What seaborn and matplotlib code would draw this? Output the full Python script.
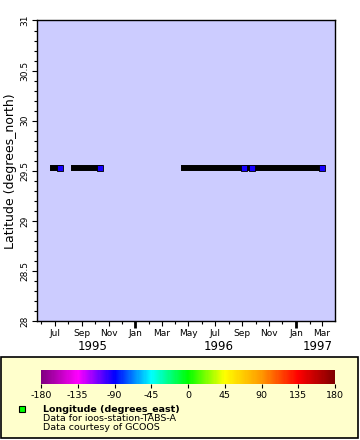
import pandas as pd
import seaborn as sns
import matplotlib
matplotlib.use('Agg')
import matplotlib.pyplot as plt
import matplotlib.dates as mdates
from matplotlib.colors import LinearSegmentedColormap, Normalize
from matplotlib.cm import ScalarMappable
from matplotlib.patches import Rectangle

# Data
seg_ids = [1, 1, 2, 2, 3, 3]
seg_times = ['1995-06-27', '1995-07-14', '1995-08-15', '1995-10-13',
             '1996-04-21', '1997-03-01']
latitude = 29.53
longitude = -94.0
end_times = ['1995-07-14', '1995-10-13', '1996-09-05', '1996-09-23', '1997-03-01']
x_range = ['1995-05-22', '1997-03-31']
year_labels = ['1995', '1996', '1997']
year_pos = ['1995-09-25', '1996-07-08', '1997-02-19']

cbar_ticks = [-180, -135, -90, -45, 0, 45, 90, 135, 180]
cbar_colors = ['#800080', '#ff00ff', '#0000ff', '#00ffff', '#00ff00',
               '#ffff00', '#ff9900', '#ff0000', '#800000']
legend_lines = ['Longitude (degrees_east)', 'Data for ioos-station-TABS-A',
                'Data courtesy of GCOOS']

sns.set_style("ticks")
plt.rcParams['font.family'] = ['DejaVu Sans']
for key in ['text.color', 'axes.labelcolor', 'xtick.color', 'ytick.color']:
    plt.rcParams[key] = 'black'

cmap = LinearSegmentedColormap.from_list('erddap_rainbow', cbar_colors)
norm = Normalize(-180, 180)

df_seg = pd.DataFrame({'time': pd.to_datetime(seg_times), 'lat': latitude, 'seg': seg_ids})
df_end = pd.DataFrame({'time': pd.to_datetime(end_times), 'lat': latitude})

fig = plt.figure(figsize=(3.6, 4.4), dpi=100)
ax = fig.add_axes([37 / 360, 119 / 440, 298 / 360, 300.5 / 440])
ax.set_facecolor('#ccccff')

# Legend box behind everything
fig.patches.append(Rectangle((1 / 360, 2 / 440), 357 / 360, 81.5 / 440,
                             transform=fig.transFigure, facecolor='#ffffcc',
                             edgecolor='black', lw=1.2, zorder=-5))

sns.lineplot(data=df_seg, x='time', y='lat', units='seg', estimator=None,
             color='black', lw=4.3, solid_capstyle='projecting', ax=ax, zorder=3)
sns.scatterplot(data=df_end, x='time', y='lat', marker='s', s=15,
                color=cmap(norm(longitude)), edgecolor='black', linewidth=0.6,
                ax=ax, zorder=4)

ax.set_xlim(pd.to_datetime(x_range))
ax.set_ylim(28, 31)
ax.set_xlabel('')
ax.set_ylabel('Latitude (degrees_north)', fontsize=9)
ax.yaxis.set_label_coords(-0.066, 0.5)

ax.xaxis.set_major_locator(mdates.MonthLocator(bymonth=[1, 3, 5, 7, 9, 11]))
ax.xaxis.set_minor_locator(mdates.MonthLocator())
ax.xaxis.set_major_formatter(mdates.DateFormatter('%b'))
ax.yaxis.set_major_locator(plt.MultipleLocator(0.5))
ax.yaxis.set_minor_locator(plt.MultipleLocator(0.1))
ax.yaxis.set_major_formatter(plt.FuncFormatter(lambda v, p: f'{v:g}'))

ax.tick_params(which='major', direction='out', length=3.5, width=0.8,
               labelsize=6.5, pad=2, color='black')
ax.tick_params(which='minor', direction='out', length=2, width=0.8, color='black')
for lab in ax.get_yticklabels():
    lab.set_rotation(90)
    lab.set_va('center')

# January ticks thicker
for tick, loc in zip(ax.xaxis.get_major_ticks(), ax.xaxis.get_majorticklocs()):
    if mdates.num2date(loc).month == 1:
        tick.tick1line.set_markeredgewidth(2)
        tick.tick1line.set_markersize(5)

for sp in ax.spines.values():
    sp.set_color('black')
    sp.set_linewidth(1)

trans = ax.get_xaxis_transform()
for lab, pos in zip(year_labels, year_pos):
    ax.text(pd.to_datetime(pos), -0.085, lab, transform=trans, ha='center',
            va='center', fontsize=8.5)

# Colorbar
cax = fig.add_axes([41 / 360, 56 / 440, 294 / 360, 14 / 440])
cax.set_zorder(5)
cax.patch.set_visible(False)
cb = fig.colorbar(ScalarMappable(norm=norm, cmap=cmap), cax=cax,
                  orientation='horizontal', ticks=cbar_ticks)
cb.outline.set_visible(False)
cax.tick_params(length=3, width=0.8, labelsize=6.8, pad=2, direction='out')
cax.set_xticklabels([str(t) for t in cbar_ticks])

# Legend entries
fig.add_artist(plt.Line2D([22 / 360], [1 - 408.5 / 440], marker='s', markersize=4,
                          markerfacecolor='#00ff00', markeredgecolor='black',
                          markeredgewidth=0.8, transform=fig.transFigure))
for i, line in enumerate(legend_lines):
    fig.text(43 / 360, 1 - (409 + 9.3 * i) / 440, line, fontsize=6.8,
             va='center', ha='left', fontweight='bold' if i == 0 else 'normal')

fig.savefig('out.png', dpi=100)
